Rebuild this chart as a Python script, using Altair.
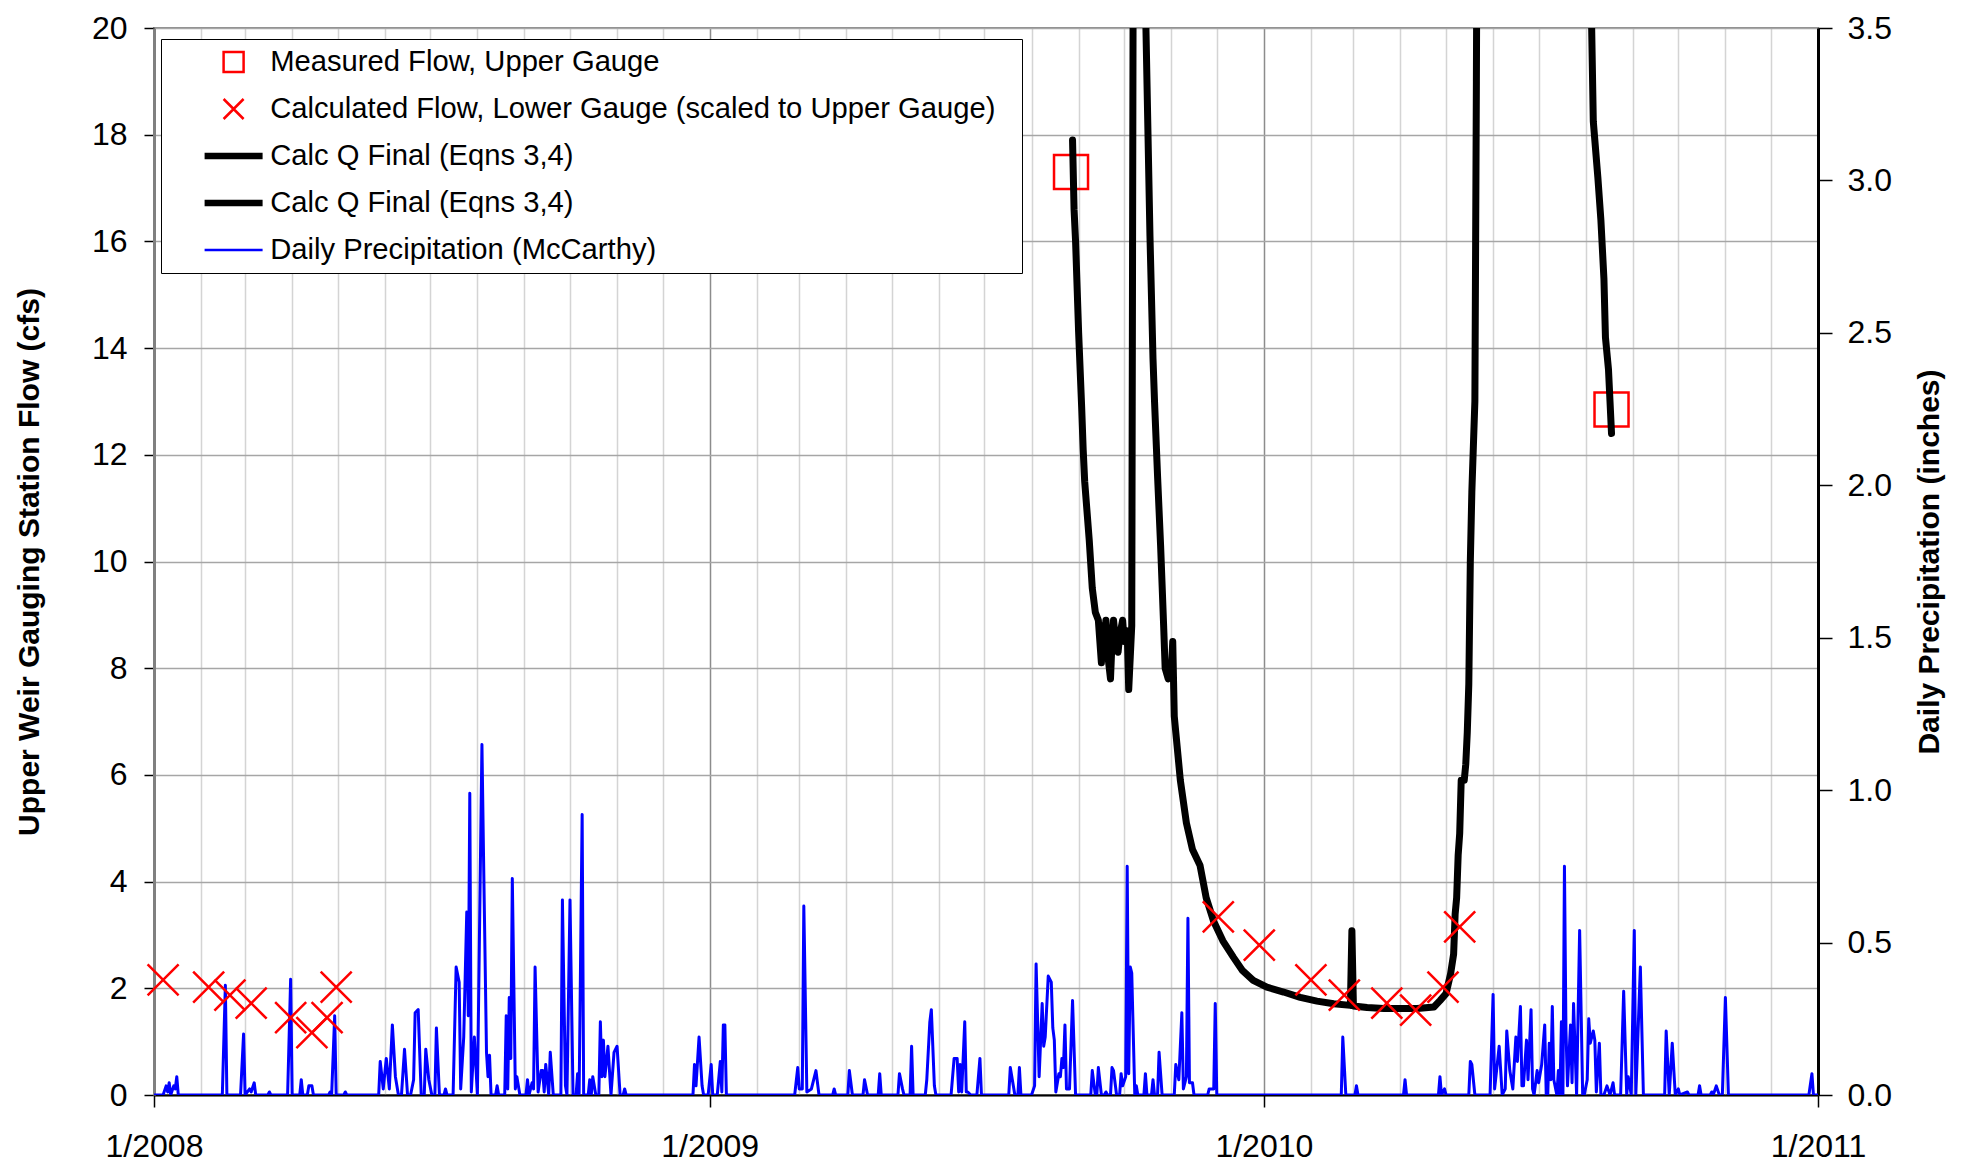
import altair as alt
import pandas as pd

START = pd.Timestamp("2008-01-01")

# ---------------- data ----------------
# (day offset from 1 Jan 2008, value)
precip_points = [
    (0, 0), (6, 0), (8, 0.03), (9, 0.01), (10, 0.04), (11, 0), (13, 0.03), (14, 0.02), (15, 0.06), (16, 0),
    (45, 0), (47, 0.36), (48, 0), (57, 0), (59, 0.20), (60, 0), (63, 0.02), (64, 0.01), (66, 0.04), (67, 0),
    (75, 0), (76, 0.01), (77, 0), (88, 0), (90, 0.38), (91, 0), (96, 0), (97, 0.05), (98, 0), (101, 0),
    (102, 0.03), (104, 0.03), (105, 0), (115, 0), (116, 0.01), (117, 0), (119, 0.26), (120, 0), (125, 0),
    (126, 0.01), (127, 0),
    (148, 0), (149, 0.11), (151, 0.02), (153, 0.12), (155, 0.02), (157, 0.23), (159, 0.06), (161, 0), (163, 0),
    (165, 0.15), (167, 0), (169, 0), (171, 0.05), (172, 0.27), (174, 0.28), (176, 0), (178, 0), (179, 0.15),
    (181, 0.05), (183, 0), (185, 0), (186, 0.22), (188, 0), (191, 0), (192, 0.02), (193, 0), (197, 0),
    (199, 0.42), (201, 0.37), (202, 0.02), (204, 0.19), (206, 0.60), (207, 0.26), (208, 0.99), (209, 0.01),
    (211, 0.19), (213, 0), (216, 1.15), (217, 0.80), (219, 0.14), (220, 0.06), (221, 0.13), (222, 0), (225, 0),
    (226, 0.03), (227, 0),
    (231, 0), (232, 0.26), (233, 0.02), (234, 0.32), (235, 0.12), (236, 0.71), (238, 0.02), (239, 0.06), (241, 0),
    (245, 0), (246, 0.05), (247, 0), (249, 0.04), (250, 0.02), (251, 0.42), (253, 0.01), (255, 0.08), (256, 0.08),
    (257, 0.01), (258, 0.10), (260, 0), (261, 0.14), (263, 0),
    (268, 0), (269, 0.64), (271, 0.03), (272, 0), (274, 0.64), (276, 0), (278, 0), (279, 0.07), (280, 0),
    (282, 0.92), (283, 0), (286, 0), (287, 0.05), (288, 0), (289, 0.06), (291, 0), (293, 0), (294, 0.24),
    (295, 0.06), (296, 0.18), (297, 0.06), (299, 0.16), (301, 0), (303, 0.14), (305, 0.16), (307, 0), (309, 0),
    (310, 0.02), (311, 0),
    (355, 0), (356, 0.10), (357, 0.03), (359, 0.19), (361, 0.03), (362, 0), (365, 0), (367, 0.10), (368, 0),
    (371, 0), (373, 0.11), (374, 0.01), (375, 0.23), (376, 0.23), (377, 0),
    (422, 0), (424, 0.09), (425, 0.02), (427, 0.02), (428, 0.62), (430, 0.01), (433, 0.02), (436, 0.08), (438, 0),
    (447, 0), (448, 0.02), (449, 0), (457, 0), (458, 0.08), (460, 0),
    (467, 0), (468, 0.05), (470, 0), (477, 0), (478, 0.07), (479, 0), (490, 0), (491, 0.07), (493, 0.02), (494, 0),
    (498, 0), (499, 0.16), (500, 0),
    (508, 0), (509, 0.05), (511, 0.24), (512, 0.28), (514, 0.03), (515, 0), (525, 0), (527, 0.12), (529, 0.12),
    (530, 0.01), (531, 0.10), (532, 0.01), (534, 0.24), (535, 0.01), (536, 0.01), (538, 0),
    (542, 0), (544, 0.12), (545, 0), (563, 0), (564, 0.09), (566, 0.03), (567, 0), (569, 0), (570, 0.09), (571, 0),
    (578, 0), (580, 0.03), (581, 0.43), (583, 0.06), (585, 0.30), (586, 0.16), (587, 0.19), (589, 0.39),
    (591, 0.37), (592, 0.22), (593, 0.18), (594, 0.01), (596, 0.07), (597, 0.06), (598, 0.12), (599, 0.09),
    (600, 0.23), (601, 0.02), (603, 0.02), (605, 0.31), (607, 0),
    (617, 0), (618, 0.08), (620, 0), (621, 0), (622, 0.09), (624, 0), (626, 0), (627, 0.01), (628, 0), (630, 0),
    (631, 0.09), (632, 0.08), (634, 0), (636, 0), (637, 0.07), (638, 0.03), (640, 0.06), (641, 0.75), (642, 0.07),
    (643, 0.42), (644, 0.40), (646, 0), (647, 0.03), (648, 0),
    (652, 0), (653, 0.07), (654, 0), (657, 0), (658, 0.05), (659, 0), (661, 0), (662, 0.14), (664, 0),
    (672, 0), (673, 0.10), (675, 0.05), (677, 0.27), (678, 0.02), (680, 0.06), (681, 0.58), (682, 0.04),
    (684, 0.04), (685, 0),
    (694, 0), (695, 0.02), (698, 0.02), (699, 0.30), (700, 0),
    (782, 0), (783, 0.19), (785, 0), (791, 0), (792, 0.03), (793, 0), (823, 0), (824, 0.05), (825, 0),
    (846, 0), (847, 0.06), (848, 0), (850, 0.02), (851, 0), (866, 0), (867, 0.11), (868, 0.10), (870, 0),
    (880, 0), (882, 0.33), (883, 0.02), (886, 0.16), (887, 0.08), (888, 0), (890, 0.02), (891, 0.21), (893, 0.08),
    (895, 0.02), (897, 0.19), (898, 0.11), (900, 0.29), (901, 0.03), (902, 0.03), (904, 0.18), (905, 0.05),
    (907, 0.28), (908, 0.02), (909, 0),
    (911, 0.08), (912, 0.04), (914, 0.10), (916, 0.23), (917, 0), (918, 0), (919, 0.17), (920, 0.05), (921, 0.29),
    (922, 0.05), (924, 0), (925, 0.08), (926, 0), (927, 0.24), (928, 0), (929, 0.75), (930, 0.21), (931, 0.03),
    (933, 0.23), (934, 0.04), (935, 0.30), (937, 0), (939, 0.54), (941, 0),
    (942, 0), (944, 0.05), (945, 0.25), (946, 0.17), (948, 0.21), (949, 0.18), (950, 0.01), (952, 0.17), (953, 0),
    (955, 0), (957, 0.03), (959, 0), (961, 0.04), (962, 0),
    (966, 0), (968, 0.34), (970, 0), (971, 0.06), (973, 0), (975, 0.54), (976, 0), (977, 0.14), (979, 0.42),
    (981, 0),
    (995, 0), (996, 0.21), (998, 0), (1000, 0.17), (1002, 0), (1004, 0.02), (1005, 0), (1010, 0.01), (1011, 0),
    (1017, 0), (1018, 0.03), (1019, 0), (1025, 0), (1026, 0.01), (1027, 0), (1029, 0.03), (1031, 0), (1033, 0),
    (1035, 0.32), (1037, 0),
    (1090, 0), (1092, 0.07), (1093, 0), (1096, 0),
]

calc_q_part1 = [
    (605, 17.9), (606, 16.6), (607, 16.0), (609, 14.3), (611, 12.9), (612, 12.1), (613, 11.5), (616, 10.4),
    (618, 9.5), (620, 9.05), (622, 8.9), (623, 8.5), (624, 8.1), (625, 8.8), (626, 8.6), (627, 8.9), (628, 8.3),
    (630, 7.8), (631, 8.5), (632, 8.9), (633, 8.6), (635, 8.3), (636, 8.6), (638, 8.9), (639, 8.5), (641, 8.7),
    (642, 7.6), (644, 8.8), (645, 22.0), (647, 40.0), (651, 40.0), (653, 20.5), (656, 16.1), (658, 13.8),
    (659, 13.0), (661, 11.6), (663, 10.3), (665, 8.8), (666, 8.0), (668, 7.8), (670, 7.9), (671, 8.5),
    (672, 7.1), (676, 5.9), (680, 5.1), (684, 4.6), (689, 4.3), (691, 4.0), (693, 3.7), (698, 3.25),
    (704, 2.89), (711, 2.58), (717, 2.33), (724, 2.15), (733, 2.02), (744, 1.93), (755, 1.83), (766, 1.76),
    (777, 1.71), (788, 1.68), (789, 3.08), (790, 1.67), (799, 1.64), (810, 1.62), (821, 1.62), (832, 1.62),
    (843, 1.65), (847, 1.77), (851, 1.90), (854, 2.27), (856, 2.64), (857, 3.39), (858, 3.70), (859, 4.50),
    (860, 4.90), (861, 5.90), (863, 5.90), (864, 6.20), (865, 6.80), (866, 7.70), (867, 10.0), (868, 11.3),
    (870, 13.0), (871, 19.0), (873, 35.0),
]

calc_q_part2 = [
    (946, 21.5), (948, 18.25), (951, 17.2), (953, 16.4), (955, 15.3), (956, 14.2), (958, 13.6), (959, 13.0),
    (960, 12.4),
]

measured_upper = [(604, 17.3), (960, 12.85)]

calc_lower = [
    (6, 2.16), (36, 2.02), (50, 1.87), (64, 1.72), (90, 1.45), (104, 1.17), (114, 1.45), (120, 2.02),
    (701, 3.34), (728, 2.81), (762, 2.16), (784, 1.87), (812, 1.72), (831, 1.59), (849, 2.02), (860, 3.15),
]

series_keys = ["meas", "lower", "calc1", "calc2", "precip"]
series_labels = [
    "Measured Flow, Upper Gauge",
    "Calculated Flow, Lower Gauge (scaled to Upper Gauge)",
    "Calc Q Final (Eqns 3,4)",
    "Calc Q Final (Eqns 3,4)",
    "Daily Precipitation (McCarthy)",
]
series_colors = ["#ff0000", "#ff0000", "#000000", "#000000", "#0000ff"]
LINE_SYMBOL = "M-2.9,0L2.9,0"
series_shapes = ["square", "M-1,-1L1,1M-1,1L1,-1", LINE_SYMBOL, LINE_SYMBOL, LINE_SYMBOL]

flow_ticks = [0, 2, 4, 6, 8, 10, 12, 14, 16, 18, 20]
precip_ticks = [0.0, 0.5, 1.0, 1.5, 2.0, 2.5, 3.0, 3.5]
month_ticks = [alt.DateTime(year=y, month=m, date=1, utc=True) for y in (2008, 2009, 2010) for m in range(1, 13)]
month_ticks.append(alt.DateTime(year=2011, month=1, date=1, utc=True))


def frame(points, key):
    return pd.DataFrame({
        "date": [(START + pd.Timedelta(days=d)).strftime("%Y-%m-%d") for d, _ in points],
        "value": [v for _, v in points],
        "series": key,
    })


precip_df = frame(precip_points, "precip")
calc1_df = frame(calc_q_part1, "calc1")
calc2_df = frame(calc_q_part2, "calc2")
meas_df = frame(measured_upper, "meas")
lower_df = frame(calc_lower, "lower")

# ---------------- encodings ----------------
FONT = "Liberation Sans"

label_expr = " : ".join(
    f"datum.value === '{k}' ? '{lab}'" for k, lab in zip(series_keys, series_labels)
) + " : ''"

legend = alt.Legend(
    title=".",
    titleOrient="right",
    titleColor="transparent",
    titleFontSize=10,
    titlePadding=18,
    orient="none",
    legendX=7,
    legendY=11,
    direction="vertical",
    fillColor="white",
    strokeColor="black",
    padding=6,
    labelFont=FONT,
    labelFontSize=29.2,
    labelColor="black",
    labelLimit=1500,
    labelExpr=label_expr,
    symbolSize=400,
    symbolStrokeWidth={"expr": "((datum.value === 'calc1' || datum.value === 'calc2') ? 6.5 : 2.5)"},
    symbolOffset=52,
    labelOffset=22,
    clipHeight=34,
    rowPadding=13,
)

color = alt.Color("series:N", scale=alt.Scale(domain=series_keys, range=series_colors), legend=legend)
shape = alt.Shape("series:N", scale=alt.Scale(domain=series_keys, range=series_shapes), legend=legend)

jan_test = "utcmonth(datum.value) === 0"
x_enc = alt.X(
    "date:T",
    scale=alt.Scale(
        type="utc",
        domain=[alt.DateTime(year=2008, month=1, date=1, utc=True),
                alt.DateTime(year=2011, month=1, date=1, utc=True)],
        nice=False,
    ),
    axis=alt.Axis(
        values=month_ticks,
        labelExpr=f"{jan_test} ? utcFormat(datum.value, '%-m/%Y') : ''",
        grid=True,
        gridColor={"condition": {"test": jan_test, "value": "#8c8c8c"}, "value": "#d4d4d4"},
        gridWidth=1.5,
        tickColor={"condition": {"test": jan_test, "value": "#000000"}, "value": "transparent"},
        tickSize=12,
        tickWidth=1.5,
        domainColor="#000000",
        domainWidth=2,
        labelFont=FONT,
        labelFontSize=32,
        labelColor="#000000",
        labelPadding=24,
        labelFlush=False,
        labelOverlap=False,
        title=None,
    ),
)

flow_y = alt.Y(
    "value:Q",
    scale=alt.Scale(domain=[0, 20], nice=False),
    axis=alt.Axis(
        orient="left",
        values=flow_ticks,
        grid=True,
        gridColor="#a6a6a6",
        gridWidth=1.5,
        domainColor="#808080",
        domainWidth=3,
        tickColor="#000000",
        tickSize=10,
        tickWidth=1.5,
        labelFont=FONT,
        labelFontSize=32,
        labelColor="#000000",
        labelPadding=17,
        title="Upper Weir Gauging Station Flow (cfs)",
        titleFont=FONT,
        titleFontSize=30,
        titleFontWeight="bold",
        titleColor="#000000",
        titlePadding=47,
    ),
)

precip_y = alt.Y(
    "value:Q",
    scale=alt.Scale(domain=[0, 3.5], nice=False),
    axis=alt.Axis(
        orient="right",
        values=precip_ticks,
        format=".1f",
        grid=False,
        domainColor="#000000",
        domainWidth=3,
        tickColor="#000000",
        tickSize=14,
        tickWidth=1.5,
        labelFont=FONT,
        labelFontSize=32,
        labelColor="#000000",
        labelPadding=15,
        title="Daily Precipitation (inches)",
        titleFont=FONT,
        titleFontSize=30,
        titleFontWeight="bold",
        titleColor="#000000",
        titleAngle=270,
        titleBaseline="top",
        titlePadding=23,
    ),
)

# ---------------- layers ----------------
precip_layer = alt.Chart(precip_df).mark_line(
    strokeWidth=3, strokeJoin="round", clip=True
).encode(x=x_enc, y=precip_y, color=color)

meas_layer = alt.Chart(meas_df).mark_point(
    filled=False, size=1156, strokeWidth=2.5, opacity=1
).encode(x=x_enc, y=flow_y, color=color, shape=shape)

calc1_layer = alt.Chart(calc1_df).mark_line(
    strokeWidth=7, strokeCap="round", strokeJoin="round", clip=True
).encode(x=x_enc, y=flow_y, color=color)

calc2_layer = alt.Chart(calc2_df).mark_line(
    strokeWidth=7, strokeCap="round", strokeJoin="round", clip=True
).encode(x=x_enc, y=flow_y, color=color)

lower_layer = alt.Chart(lower_df).mark_point(
    filled=False, size=961, strokeWidth=2.5, opacity=1
).encode(x=x_enc, y=flow_y, color=color, shape=shape)

flow_layer = alt.layer(meas_layer, calc1_layer, calc2_layer, lower_layer)

chart = (
    alt.layer(precip_layer, flow_layer)
    .resolve_scale(y="independent")
    .properties(
        width=1664,
        height=1067,
        autosize=alt.AutoSizeParams(type="none"),
        padding={"left": 146, "top": 20, "right": 141, "bottom": 69},
        background="white",
    )
    .configure_view(stroke="#8c8c8c", strokeWidth=2)
)

chart.save("out.html", embed_options={"renderer": "svg", "actions": False})
